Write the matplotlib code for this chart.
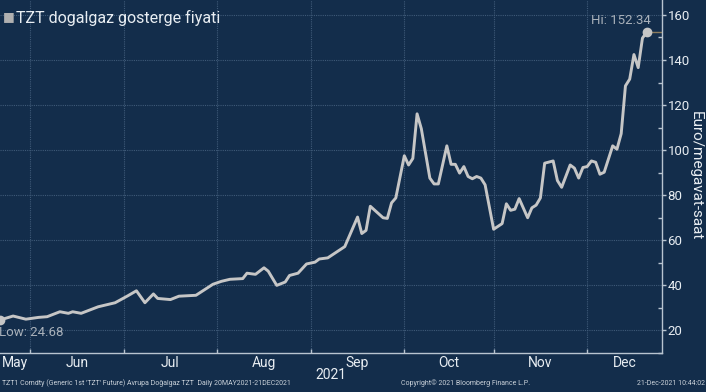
import matplotlib
matplotlib.use('Agg')
import matplotlib.pyplot as plt
import numpy as np

plt.rcParams['font.family'] = ['Roboto', 'DejaVu Sans']

# TTF (TZT) gas price
dates = ['2021-05-21', '2021-05-26', '2021-05-31', '2021-06-03', '2021-06-07', '2021-06-10',
         '2021-06-14', '2021-06-15', '2021-06-17', '2021-06-23', '2021-06-29', '2021-07-02',
         '2021-07-06', '2021-07-08', '2021-07-12', '2021-07-13', '2021-07-16', '2021-07-20',
         '2021-07-26', '2021-07-30', '2021-08-03', '2021-08-05', '2021-08-10', '2021-08-11',
         '2021-08-13', '2021-08-17', '2021-08-18', '2021-08-20', '2021-08-24', '2021-08-25',
         '2021-08-27', '2021-08-31', '2021-09-02', '2021-09-03', '2021-09-07', '2021-09-13',
         '2021-09-16', '2021-09-17', '2021-09-20', '2021-09-21', '2021-09-24', '2021-09-27',
         '2021-09-28', '2021-09-29', '2021-10-01', '2021-10-04', '2021-10-05', '2021-10-06',
         '2021-10-07', '2021-10-11', '2021-10-12', '2021-10-13', '2021-10-15', '2021-10-18',
         '2021-10-19', '2021-10-20', '2021-10-21', '2021-10-22', '2021-10-25', '2021-10-26',
         '2021-10-27', '2021-10-28', '2021-11-01', '2021-11-03', '2021-11-04', '2021-11-05',
         '2021-11-08', '2021-11-09', '2021-11-11', '2021-11-12', '2021-11-15', '2021-11-16',
         '2021-11-17', '2021-11-19', '2021-11-22', '2021-11-23', '2021-11-25', '2021-11-26',
         '2021-11-29', '2021-11-30', '2021-12-01', '2021-12-02', '2021-12-03', '2021-12-06',
         '2021-12-07', '2021-12-09', '2021-12-10', '2021-12-13', '2021-12-14', '2021-12-15',
         '2021-12-16', '2021-12-17', '2021-12-20', '2021-12-21']
prices = [24.68, 26.4, 25.0, 25.8, 26.1, 28.3,
          27.6, 28.3, 27.6, 30.5, 32.3, 35.4,
          37.6, 32.3, 36.2, 34.2, 33.7, 35.2,
          35.6, 40.5, 41.8, 42.7, 43.0, 45.4,
          44.9, 47.8, 46.3, 40.0, 41.5, 44.4,
          45.4, 49.5, 50.3, 51.7, 52.2, 57.2,
          70.3, 63.0, 64.4, 75.1, 70.0, 69.7,
          76.6, 78.8, 97.5, 93.4, 96.3, 116.1,
          109.5, 87.6, 85.0, 85.0, 101.9, 93.7,
          93.7, 89.8, 92.7, 88.3, 87.3, 88.3,
          87.6, 84.6, 64.9, 67.4, 76.2, 73.3,
          73.8, 78.5, 70.0, 74.4, 75.6, 78.8,
          94.2, 95.2, 86.5, 83.5, 93.4, 92.0,
          87.6, 92.3, 92.7, 95.2, 94.6, 89.3,
          90.2, 101.9, 100.4, 107.3, 128.5, 131.5,
          142.4, 136.6, 149.7, 152.34]
months = ['May', 'Jun', 'Jul', 'Aug', 'Sep', 'Oct', 'Nov', 'Dec']
month_starts = ['2021-05-03', '2021-06-01', '2021-07-01', '2021-08-02', '2021-09-01',
                '2021-10-01', '2021-11-01', '2021-12-01', '2022-01-03']
yticks = [20, 40, 60, 80, 100, 120, 140, 160]

bg = '#132d4b'
fg = '#e8edf2'
grid_c = '#3f5a78'
axis_c = '#b8c4d0'

# x = trading-day index (Bloomberg style axis)
start = '2021-05-20'
x = np.busday_count(start, dates)
y = np.array(prices)
mpos = np.busday_count(start, month_starts)

fig = plt.figure(figsize=(7.06, 3.92), dpi=100, facecolor=bg)
ax = fig.add_axes([0.0, 0.0995, 0.9377, 0.9005], facecolor=bg)

ax.plot(x, y, color='#c6c6c6', lw=2.1, solid_joinstyle='round', zorder=3)

xmin, xmax = 0.92, 156.6
ax.set_xlim(xmin, xmax)
ax.set_ylim(11.66, 166.6)

# low / high markers
i_lo = np.argmin(y)
i_hi = np.argmax(y)
ax.plot(x[i_lo], y[i_lo], 'o', ms=6, color='#c6c6c6', clip_on=False, zorder=4)
ax.plot(x[i_hi], y[i_hi], 'o', ms=6, color='#c6c6c6', zorder=4)
ax.plot([x[i_hi], xmax], [y[i_hi], y[i_hi]], color='#8c7b5c', lw=1.0, zorder=2)
ax.text(x[i_lo] - 0.4, y[i_lo] - 2.5, 'Low: %.2f' % y[i_lo], color='#a9b1ba',
        fontsize=9.5, ha='left', va='top')
ax.text(x[i_hi] + 1.0, y[i_hi] + 2.5, 'Hi: %.2f' % y[i_hi], color='#a9b1ba',
        fontsize=9.5, ha='right', va='bottom')

# spines
for s in ['left', 'top']:
    ax.spines[s].set_visible(False)
for s in ['right', 'bottom']:
    ax.spines[s].set_color(axis_c)
    ax.spines[s].set_linewidth(1.0)

# y axis on the right
ax.yaxis.tick_right()
ax.set_yticks(yticks)
ax.set_yticks(np.arange(10, 170, 10), minor=True)
ax.tick_params(axis='y', which='major', direction='out', length=3, width=1,
               colors=axis_c, labelcolor=fg, labelsize=9.5, pad=1)
ax.tick_params(axis='y', which='minor', direction='in', length=3, width=1, colors=axis_c)
fig.text(0.986, 0.553, 'Euro/megavat-saat', color=fg, fontsize=11, rotation=-90,
         ha='center', va='center')

# x axis: month boundaries as ticks/grid, names centred in each month
ax.set_xticks(mpos[1:-1])
ax.set_xticklabels([])
centers = []
for a, b in zip(mpos[:-1], mpos[1:]):
    centers.append((max(a, xmin) + min(b, xmax)) / 2)
ax.set_xticks(centers, minor=True)
ax.set_xticklabels(months, minor=True)
ax.tick_params(axis='x', which='major', direction='in', length=3, width=1, colors=axis_c)
ax.tick_params(axis='x', which='minor', length=0, labelcolor=fg, labelsize=10, pad=2)
ax.text(0.5, -0.062, '2021', transform=ax.transAxes, ha='center', va='center',
        color=fg, fontsize=10)

ax.grid(True, which='major', color=grid_c, linestyle=(0, (1, 1)), linewidth=0.8)

# title
fig.text(0.004, 0.957, '\u25a0', color='#b0b0b0', fontsize=9, ha='left', va='center')
fig.text(0.023, 0.955, 'TZT dogalgaz gosterge fiyati', color=fg, fontsize=11.5,
         ha='left', va='center')

# footer
foot_c = '#c8d0d8'
fig.text(0.003, 0.012, "TZT1 Comdty (Generic 1st 'TZT' Future) Avrupa Doğalgaz TZT  Daily 20MAY2021-21DEC2021",
         color=foot_c, fontsize=5, ha='left', va='bottom')
fig.text(0.66, 0.012, 'Copyright\u00a9 2021 Bloomberg Finance L.P.', color=foot_c,
         fontsize=5, ha='center', va='bottom')
fig.text(0.998, 0.012, '21-Dec-2021 10:44:02', color=foot_c, fontsize=5,
         ha='right', va='bottom')

fig.savefig('out.png', dpi=100, facecolor=bg)
